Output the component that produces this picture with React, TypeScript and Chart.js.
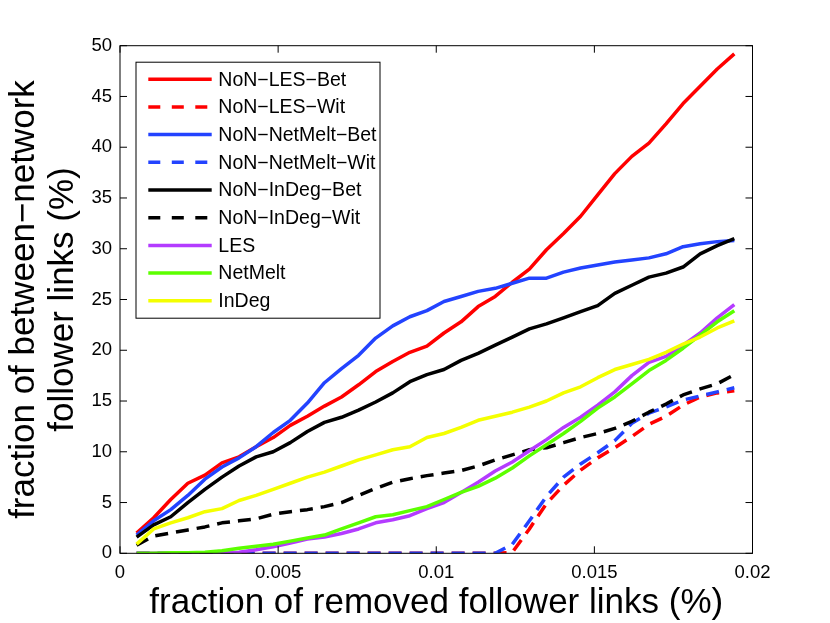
import React, { useEffect, useRef } from "react";
import { Chart, registerables } from "chart.js";

Chart.register(...registerables);

// x positions of the samples (fraction of removed follower links, %)
const xValues = [
  0.000525, 0.001065, 0.001605, 0.002145, 0.002685, 0.003225, 0.003765, 0.004305, 0.004845,
  0.005385, 0.005925, 0.006465, 0.007005, 0.007545, 0.008085, 0.008625, 0.009165, 0.009705,
  0.010245, 0.010785, 0.011325, 0.011865, 0.012405, 0.012945, 0.013485, 0.014025, 0.014565,
  0.015105, 0.015645, 0.016185, 0.016725, 0.017265, 0.017805, 0.018345, 0.018885, 0.019425,
];

const nonLesBet = [
  2.0, 3.5, 5.3, 6.9, 7.7, 8.9, 9.5, 10.5, 11.4, 12.6, 13.5, 14.5, 15.4, 16.6, 17.9, 18.9, 19.8, 20.4,
  21.7, 22.8, 24.3, 25.3, 26.7, 28.0, 29.9, 31.5, 33.2, 35.3, 37.4, 39.1, 40.4, 42.3, 44.3, 46.0, 47.7, 49.2,
];
const nonLesWit = [
  0, 0, 0, 0, 0, 0, 0, 0, 0, 0, 0, 0, 0, 0, 0, 0, 0, 0, 0, 0, 0, 0,
  0.1, 2.4, 4.9, 6.7, 8.2, 9.4, 10.4, 11.5, 12.7, 13.5, 14.6, 15.4, 15.8, 16.0,
];
const nonNetMeltBet = [
  1.8, 3.2, 4.3, 5.7, 7.3, 8.5, 9.4, 10.5, 11.9, 13.1, 14.8, 16.8, 18.2, 19.5, 21.2, 22.4, 23.3, 23.9,
  24.8, 25.3, 25.8, 26.1, 26.6, 27.1, 27.1, 27.7, 28.1, 28.4, 28.7, 28.9, 29.1, 29.5, 30.2, 30.5, 30.7, 30.8,
];
const nonNetMeltWit = [
  0, 0, 0, 0, 0, 0, 0, 0, 0, 0, 0, 0, 0, 0, 0, 0, 0, 0, 0, 0, 0, 0,
  0.9, 3.2, 5.6, 7.5, 8.8, 9.9, 11.1, 12.8, 13.8, 14.4, 15.1, 15.5, 15.9, 16.3,
];
const nonInDegBet = [
  1.6, 2.8, 3.6, 5.0, 6.3, 7.5, 8.6, 9.5, 10.0, 10.9, 12.0, 12.9, 13.4, 14.1, 14.9, 15.8, 16.9, 17.6,
  18.1, 19.0, 19.7, 20.5, 21.3, 22.1, 22.6, 23.2, 23.8, 24.4, 25.6, 26.4, 27.2, 27.6, 28.2, 29.5, 30.3, 31.0,
];
const nonInDegWit = [
  0.8, 1.7, 2.0, 2.3, 2.6, 3.0, 3.2, 3.4, 3.85, 4.1, 4.3, 4.6, 5.0, 5.7, 6.4, 7.0, 7.35, 7.65,
  7.9, 8.15, 8.6, 9.2, 9.7, 10.2, 10.4, 10.9, 11.4, 11.8, 12.3, 13.0, 13.9, 14.7, 15.6, 16.2, 16.7, 17.6,
];
const les = [
  0, 0, 0, 0, 0, 0, 0.1, 0.35, 0.65, 1.0, 1.4, 1.6, 1.95, 2.4, 3.0, 3.3, 3.7, 4.4,
  5.0, 6.0, 7.0, 8.1, 9.0, 10.1, 11.2, 12.4, 13.4, 14.6, 15.9, 17.5, 18.8, 19.4, 20.5, 21.7, 23.2, 24.5,
];
const netMelt = [
  0, 0, 0.05, 0.05, 0.1, 0.25, 0.5, 0.7, 0.9, 1.2, 1.5, 1.8, 2.4, 3.0, 3.6, 3.8, 4.2, 4.6,
  5.3, 6.0, 6.6, 7.4, 8.4, 9.6, 10.7, 11.8, 13.0, 14.3, 15.4, 16.7, 18.0, 19.0, 20.2, 21.5, 22.8, 23.9,
];
const inDeg = [
  0.9, 2.4, 3.0, 3.5, 4.1, 4.4, 5.2, 5.7, 6.3, 6.9, 7.5, 8.0, 8.6, 9.2, 9.7, 10.2, 10.5, 11.4,
  11.8, 12.4, 13.1, 13.5, 13.9, 14.4, 15.0, 15.8, 16.4, 17.3, 18.1, 18.6, 19.1, 19.8, 20.6, 21.3, 22.2, 22.9,
];

const seriesLabels = [
  "NoN−LES−Bet",
  "NoN−LES−Wit",
  "NoN−NetMelt−Bet",
  "NoN−NetMelt−Wit",
  "NoN−InDeg−Bet",
  "NoN−InDeg−Wit",
  "LES",
  "NetMelt",
  "InDeg",
];
const seriesValues = [nonLesBet, nonLesWit, nonNetMeltBet, nonNetMeltWit, nonInDegBet, nonInDegWit, les, netMelt, inDeg];
const seriesColors = ["#ff0000", "#ff0000", "#2343ff", "#2343ff", "#000000", "#000000", "#b43cff", "#5cff00", "#f4ff00"];
const seriesDashed = [false, true, false, true, false, true, false, false, false];

const xTicks = [0, 0.005, 0.01, 0.015, 0.02];
const yTicks = [0, 5, 10, 15, 20, 25, 30, 35, 40, 45, 50];

const xTitle = "fraction of removed follower links (%)";
const yTitle = ["fraction of between−network", "follower links (%)"];

const FONT = "'Liberation Sans', Arial, Helvetica, sans-serif";

export default function App() {
  const ref = useRef<HTMLCanvasElement | null>(null);

  useEffect(() => {
    const canvas = ref.current;
    if (!canvas) return;

    const datasets = seriesLabels.map((label, i) => ({
      label,
      data: xValues.map((x, k) => ({ x, y: seriesValues[i][k] })),
      borderColor: seriesColors[i],
      backgroundColor: seriesColors[i],
      borderWidth: 3.5,
      borderDash: seriesDashed[i] ? [13, 8] : [],
      borderCapStyle: "butt" as const,
      borderJoinStyle: "round" as const,
      pointRadius: 0,
      pointHoverRadius: 0,
      fill: false,
      tension: 0,
      order: seriesLabels.length - 1 - i,
    }));

    const framePlugin = {
      id: "matlabFrame",
      afterDraw(chart: any) {
        const { ctx, chartArea: a, scales } = chart;
        const xs = scales.x;
        const ys = scales.y;
        ctx.save();
        ctx.strokeStyle = "#000";
        ctx.lineWidth = 1;
        ctx.setLineDash([]);
        ctx.strokeRect(a.left, a.top, a.right - a.left, a.bottom - a.top);
        const tl = 7;
        ctx.beginPath();
        xTicks.forEach((v) => {
          const px = xs.getPixelForValue(v);
          ctx.moveTo(px, a.bottom);
          ctx.lineTo(px, a.bottom - tl);
          ctx.moveTo(px, a.top);
          ctx.lineTo(px, a.top + tl);
        });
        yTicks.forEach((v) => {
          const py = ys.getPixelForValue(v);
          ctx.moveTo(a.left, py);
          ctx.lineTo(a.left + tl, py);
          ctx.moveTo(a.right, py);
          ctx.lineTo(a.right - tl, py);
        });
        ctx.stroke();

        // legend box inside the plot area
        const bx = a.left + 16;
        const by = a.top + 16.5;
        const bw = 244;
        const bh = 256;
        ctx.fillStyle = "#fff";
        ctx.fillRect(bx, by, bw, bh);
        ctx.strokeStyle = "#000";
        ctx.lineWidth = 1;
        ctx.strokeRect(bx, by, bw, bh);
        ctx.font = `19.5px ${FONT}`;
        ctx.textBaseline = "middle";
        ctx.textAlign = "left";
        chart.data.datasets.forEach((ds: any, i: number) => {
          const ry = by + 17 + i * 27.7;
          ctx.beginPath();
          ctx.strokeStyle = ds.borderColor;
          ctx.lineWidth = 3.5;
          ctx.lineCap = "butt";
          ctx.setLineDash(seriesDashed[i] ? [12, 11.5] : []);
          ctx.moveTo(bx + 12.3, ry);
          ctx.lineTo(bx + 75.7, ry);
          ctx.stroke();
          ctx.setLineDash([]);
          ctx.fillStyle = "#000";
          ctx.fillText(ds.label, bx + 82.3, ry + 1);
        });
        ctx.restore();
      },
    };

    const chart = new Chart(canvas, {
      type: "line",
      data: { datasets: datasets as any },
      options: {
        animation: false,
        responsive: false,
        events: [],
        layout: { padding: { top: 45.7, right: 77.5, left: 0, bottom: 0 } },
        plugins: {
          legend: { display: false },
          tooltip: { enabled: false },
        },
        scales: {
          x: {
            type: "linear",
            min: 0,
            max: 0.02,
            afterBuildTicks: (s: any) => {
              s.ticks = xTicks.map((v) => ({ value: v }));
            },
            afterFit: (s: any) => {
              s.height = 69.7;
              s.paddingLeft = 0;
              s.paddingRight = 0;
            },
            ticks: {
              autoSkip: false,
              maxRotation: 0,
              color: "#000",
              padding: 8.5,
              font: { family: FONT, size: 18.5 },
              callback: (v: any) => String(Math.round(Number(v) * 1000) / 1000),
            },
            grid: { display: false, drawTicks: false },
            border: { display: false },
            title: {
              display: true,
              text: xTitle,
              color: "#000",
              font: { family: FONT, size: 35, lineHeight: 1 },
              padding: { top: 0, bottom: 2.5 },
            },
          },
          y: {
            type: "linear",
            min: 0,
            max: 50,
            afterBuildTicks: (s: any) => {
              s.ticks = yTicks.map((v) => ({ value: v }));
            },
            afterFit: (s: any) => {
              s.width = 120;
              s.paddingTop = 0;
              s.paddingBottom = 0;
            },
            ticks: {
              autoSkip: false,
              color: "#000",
              padding: 8,
              font: { family: FONT, size: 18.5 },
              callback: (v: any) => String(v),
            },
            grid: { display: false, drawTicks: false },
            border: { display: false },
            title: {
              display: true,
              text: yTitle,
              color: "#000",
              font: { family: FONT, size: 35, lineHeight: 1.13 },
              padding: { top: 4.4, bottom: 0 },
            },
          },
        },
      },
      plugins: [framePlugin],
    });

    return () => {
      chart.destroy();
    };
  }, []);

  return (
    <div style={{ position: "absolute", left: 0, top: 0, width: 830, height: 623, background: "#fff" }}>
      <canvas ref={ref} width={830} height={623} style={{ display: "block", width: 830, height: 623 }} />
    </div>
  );
}
